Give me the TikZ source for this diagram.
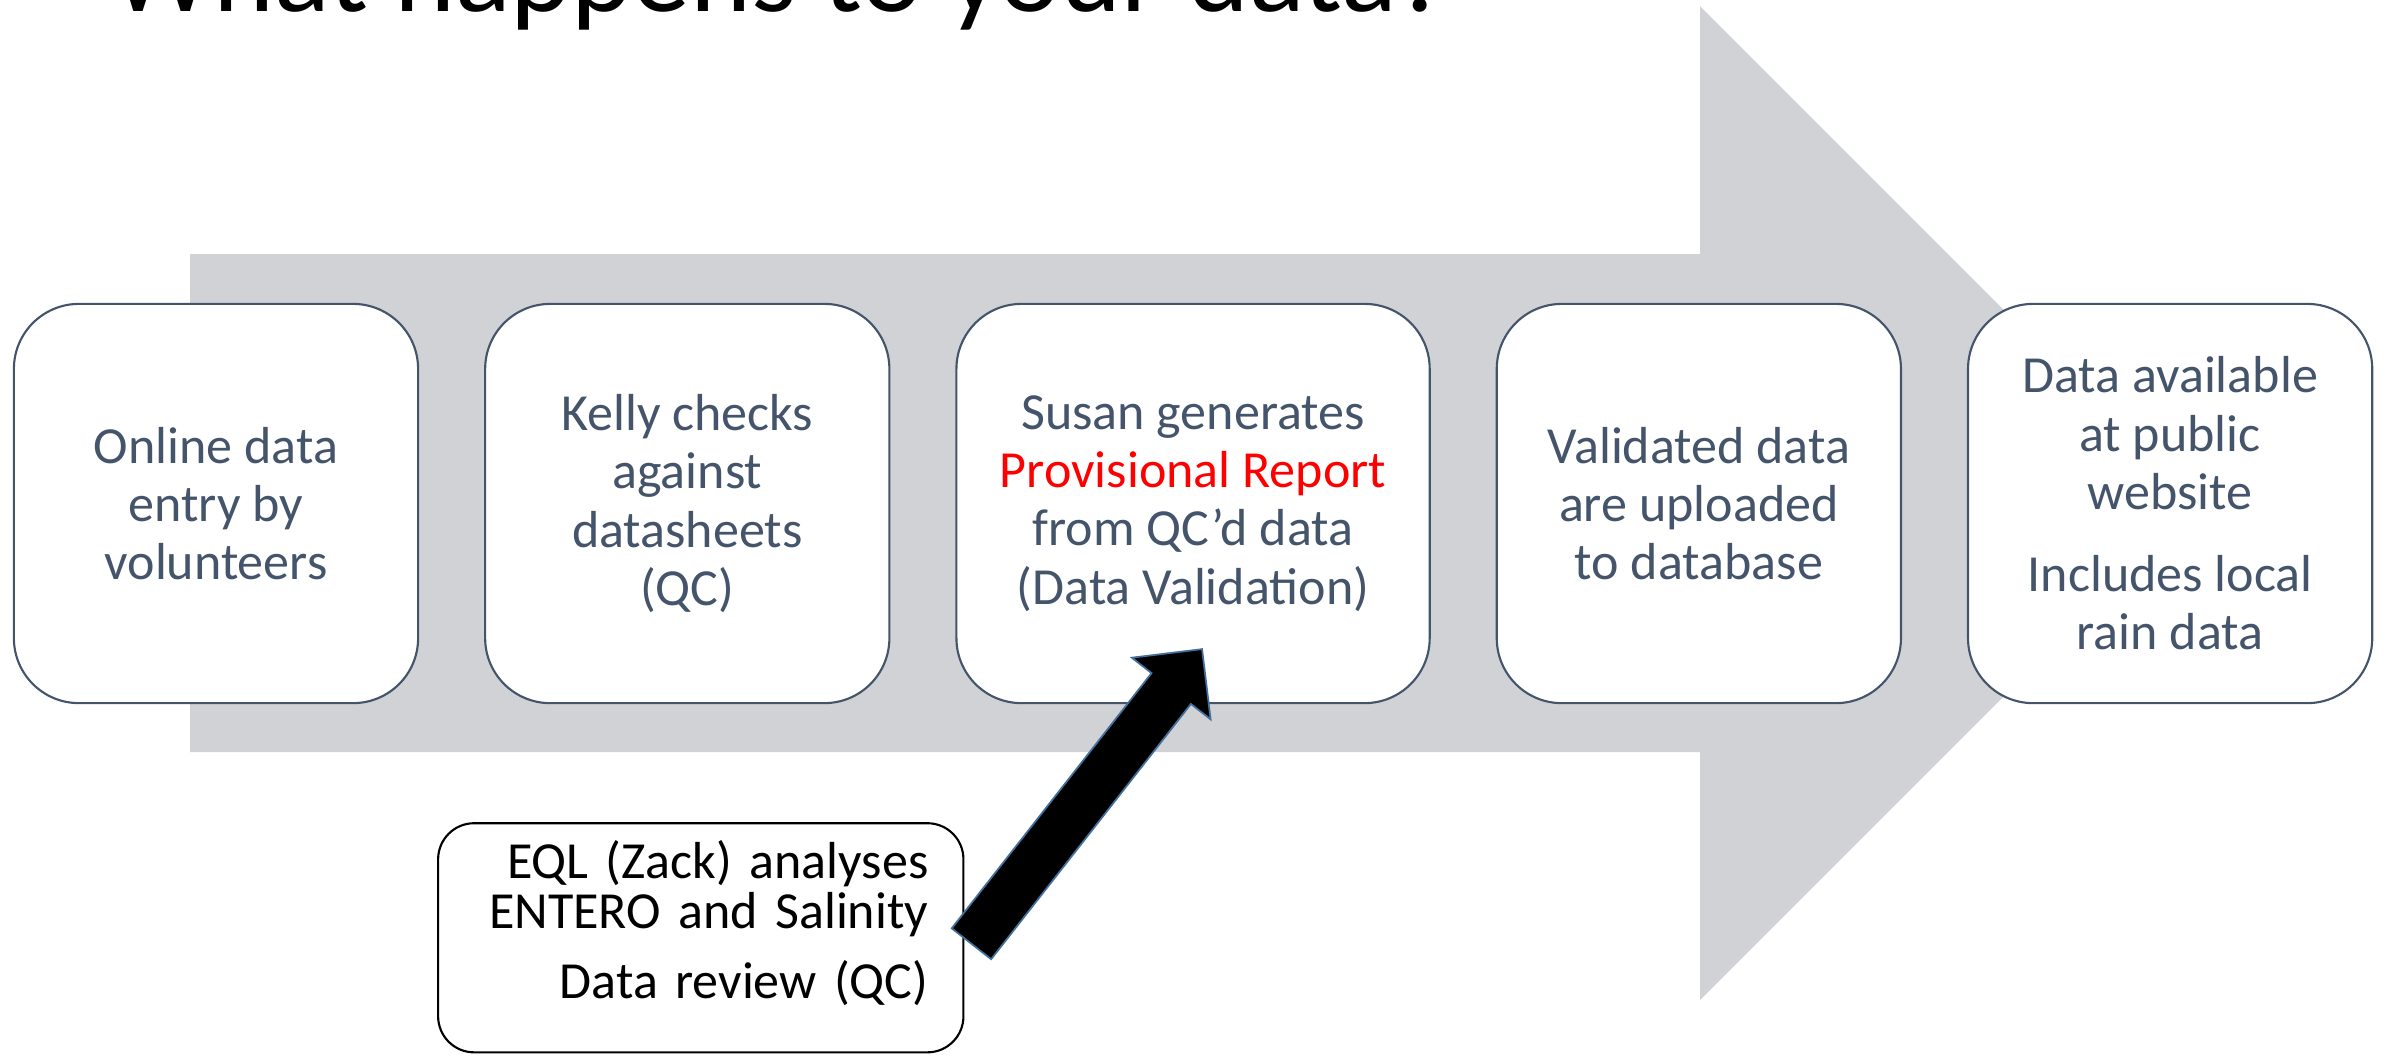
\documentclass[tikz,border=0pt]{standalone}
\usepackage{fontspec}
\setmainfont{Carlito}
\usetikzlibrary{positioning,calc}
\definecolor{slate}{HTML}{44546A}
\definecolor{flowgray}{HTML}{D0D2D6}
\definecolor{pushline}{HTML}{41719C}
\definecolor{alert}{HTML}{FF0000}

\begin{document}
\begin{tikzpicture}[
    x=0.01cm, y=-0.01cm,
    node distance=0.67cm,
    stepbox/.style={draw=slate, fill=white, line width=0.6pt, rounded corners=0.65cm,
                    minimum width=4.04cm, minimum height=3.99cm, inner sep=0pt, outer sep=0pt,
                    text=slate, align=center, font=\fontsize{14.8}{16.6}\selectfont},
    notebox/.style={draw=black, fill=white, line width=0.6pt, rounded corners=0.36cm,
                    minimum width=5.25cm, minimum height=2.29cm, inner xsep=0.35cm, inner ysep=0pt,
                    outer sep=0pt, text width=4.55cm, text depth=1.56cm, align=right,
                    font=\fontsize{14.8}{14.2}\selectfont},
    push/.style={fill=black, draw=pushline, line width=0.5pt, line join=miter},
  ]
  \useasboundingbox (0,0) rectangle (2387,1056);
  \clip (0,0) rectangle (2387,1056);

  % heading, cut off by the top of the page
  \node[anchor=base west, inner sep=0pt, font=\fontsize{33}{40}\selectfont] (title) at (110,11) {What happens to your data?};

  % gray process arrow behind the steps
  \fill[flowgray] (190,254) -- (1700,254) -- (1700,6) -- (2197,503)
                  -- (1700,1000) -- (1700,752) -- (190,752) -- cycle;

  \node[stepbox] (entry) at (216,503.5) {Online data\\entry by\\volunteers};
  \node[stepbox, right=of entry] (check) {Kelly checks\\against\\datasheets\\(QC)};
  \node[stepbox, right=of check, minimum width=4.73cm] (report) {Susan generates\\\textcolor{alert}{Provisional Report}\\from QC’d data\\(Data Validation)};
  \node[stepbox, right=of report] (upload) {Validated data\\are uploaded\\to database};
  \node[stepbox, right=of upload] (public) {Data available\\at public\\website\\[0.235cm]Includes local\\rain data};

  \node[notebox, below=1.2cm of check, xshift=0.135cm] (eql) {EQL (Zack) analyses\\ENTERO and Salinity\\[0.2cm]Data review (QC)};

  % block arrow from the lab box into the report step
  \coordinate (tail) at ($(eql.east)+(8,6)$);
  \coordinate (tip)  at ($(report.south)+(9,-54)$);
  \coordinate (neck) at ($(tip)!0.5cm!(tail)$);
  \filldraw[push] ($(tail)!0.25cm!90:(tip)$) -- ($(neck)!0.25cm!90:(tip)$)
    -- ($(neck)!0.5cm!90:(tip)$) -- (tip) -- ($(neck)!0.5cm!-90:(tip)$)
    -- ($(neck)!0.25cm!-90:(tip)$) -- ($(tail)!0.25cm!-90:(tip)$) -- cycle;
\end{tikzpicture}
\end{document}
